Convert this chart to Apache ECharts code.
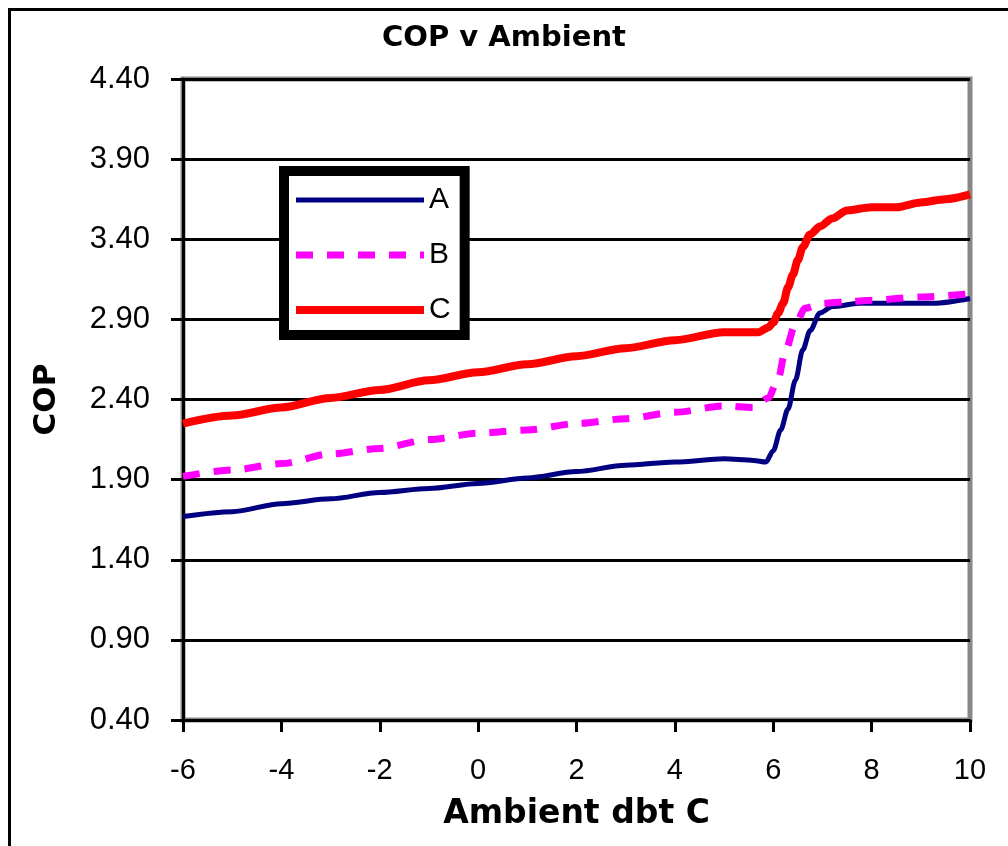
<!DOCTYPE html>
<html>
<head>
<meta charset="utf-8">
<title>COP v Ambient</title>
<script src="https://cdn.jsdelivr.net/npm/echarts@6/dist/echarts.min.js"></script>
<style>
  html, body { margin: 0; padding: 0; background: #fff; }
  #chart { width: 1008px; height: 846px; }
</style>
</head>
<body>
<div id="chart"></div>
<script>
// ambient dbt (C) -> COP
var seriesA = [
  [-6, 1.67], [-5, 1.70], [-4, 1.75], [-3, 1.78], [-2, 1.82], [-1, 1.845],
  [0, 1.876], [1, 1.91], [2, 1.95], [3, 1.99], [4, 2.01], [5, 2.03],
  [5.6, 2.02], [5.85, 2.01], [6.0, 2.08], [6.15, 2.21], [6.3, 2.34],
  [6.45, 2.52], [6.6, 2.71], [6.75, 2.83], [6.95, 2.94], [7.2, 2.98],
  [7.75, 3.00], [8.6, 3.00], [9.25, 3.00], [10, 3.03]
];
var seriesB = [
  [-6, 1.92], [-5, 1.96], [-4, 2.00], [-3, 2.06], [-2, 2.095], [-1, 2.15],
  [0, 2.19], [1, 2.21], [2, 2.25], [3, 2.28], [4, 2.32], [5, 2.36],
  [5.6, 2.35], [5.9, 2.41], [6.1, 2.53], [6.25, 2.71], [6.45, 2.87],
  [6.65, 2.97], [7.0, 3.00], [7.5, 3.01], [8.0, 3.02], [9.0, 3.04], [10, 3.06]
];
var seriesC = [
  [-6, 2.25], [-5, 2.30], [-4, 2.35], [-3, 2.41], [-2, 2.46], [-1, 2.52],
  [0, 2.57], [1, 2.62], [2, 2.67], [3, 2.72], [4, 2.77], [5, 2.82],
  [5.7, 2.82], [5.9, 2.85], [6.0, 2.88], [6.1, 2.94], [6.2, 3.00],
  [6.3, 3.10], [6.4, 3.18], [6.5, 3.27], [6.6, 3.35], [6.75, 3.43],
  [6.95, 3.48], [7.2, 3.53], [7.5, 3.58], [8.0, 3.60], [8.5, 3.60],
  [9.0, 3.63], [9.5, 3.65], [10, 3.68]
];
var seriesNames = ['A', 'B', 'C'];

var myChart = echarts.init(document.getElementById('chart'));
var font = 'Liberation Sans, Arial, sans-serif';
var boldFont = 'DejaVu Sans, sans-serif';

var option = {
  backgroundColor: '#fff',
  animation: false,
  title: {
    text: 'COP v Ambient',
    left: 'center',
    top: 19,
    textStyle: { fontFamily: boldFont, fontSize: 29, fontWeight: 'bold', color: '#000' }
  },
  graphic: [
    { // outer frame (top + left visible)
      type: 'rect',
      shape: { x: 9.5, y: 9.5, width: 1100, height: 900 },
      style: { fill: 'none', stroke: '#000', lineWidth: 3 },
      silent: true
    }
  ],
  legend: {
    orient: 'vertical',
    left: 284,
    top: 171,
    data: seriesNames,
    backgroundColor: '#fff',
    borderColor: '#000',
    borderWidth: 10,
    padding: [14, 14, 10, 8],
    itemWidth: 128,
    itemHeight: 10,
    itemGap: 25,
    itemStyle: { opacity: 0 },
    lineStyle: { width: 'inherit' },
    textStyle: { fontFamily: font, fontSize: 30, color: '#000', lineHeight: 30, padding: [0, 0, 0, 0] }
  },
  grid: {
    left: 183,
    right: 38,
    top: 79,
    bottom: 126,
    show: true,
    borderColor: '#888',
    borderWidth: 5
  },
  xAxis: {
    type: 'value',
    min: -6,
    max: 10,
    interval: 2,
    name: 'Ambient dbt C',
    nameLocation: 'middle',
    nameGap: 78,
    nameTextStyle: { fontFamily: boldFont, fontSize: 33, fontWeight: 'bold', color: '#000' },
    axisLine: { show: true, onZero: false, lineStyle: { color: '#000', width: 3 } },
    axisTick: { show: true, length: 12, lineStyle: { color: '#000', width: 3 } },
    axisLabel: { margin: 36, fontFamily: font, fontSize: 29, color: '#000' },
    splitLine: { show: false }
  },
  yAxis: {
    type: 'value',
    min: 0.4,
    max: 4.4,
    interval: 0.5,
    name: 'COP',
    nameLocation: 'middle',
    nameGap: 121,
    nameRotate: 90,
    nameTextStyle: { fontFamily: boldFont, fontSize: 31, fontWeight: 'bold', color: '#000' },
    axisLine: { show: true, onZero: false, lineStyle: { color: '#000', width: 3 } },
    axisTick: { show: true, length: 12, lineStyle: { color: '#000', width: 3 } },
    axisLabel: {
      margin: 33,
      fontFamily: font,
      fontSize: 31,
      color: '#000',
      formatter: function (v) { return v.toFixed(2); }
    },
    splitLine: { show: true, lineStyle: { color: '#000', width: 3 } }
  },
  series: [
    {
      name: 'A',
      type: 'line',
      data: seriesA,
      showSymbol: false,
      symbol: 'none',
      smooth: 0.3,
      smoothMonotone: 'x',
      lineStyle: { color: '#000080', width: 5 },
      itemStyle: { color: '#000080' }
    },
    {
      name: 'B',
      type: 'line',
      data: seriesB,
      showSymbol: false,
      symbol: 'none',
      smooth: 0.3,
      smoothMonotone: 'x',
      lineStyle: { color: '#ff00ff', width: 7, type: [17, 14] },
      itemStyle: { color: '#ff00ff' }
    },
    {
      name: 'C',
      type: 'line',
      data: seriesC,
      showSymbol: false,
      symbol: 'none',
      smooth: 0.3,
      smoothMonotone: 'x',
      lineStyle: { color: '#ff0000', width: 8 },
      itemStyle: { color: '#ff0000' }
    }
  ]
};
myChart.setOption(option);
</script>
</body>
</html>
